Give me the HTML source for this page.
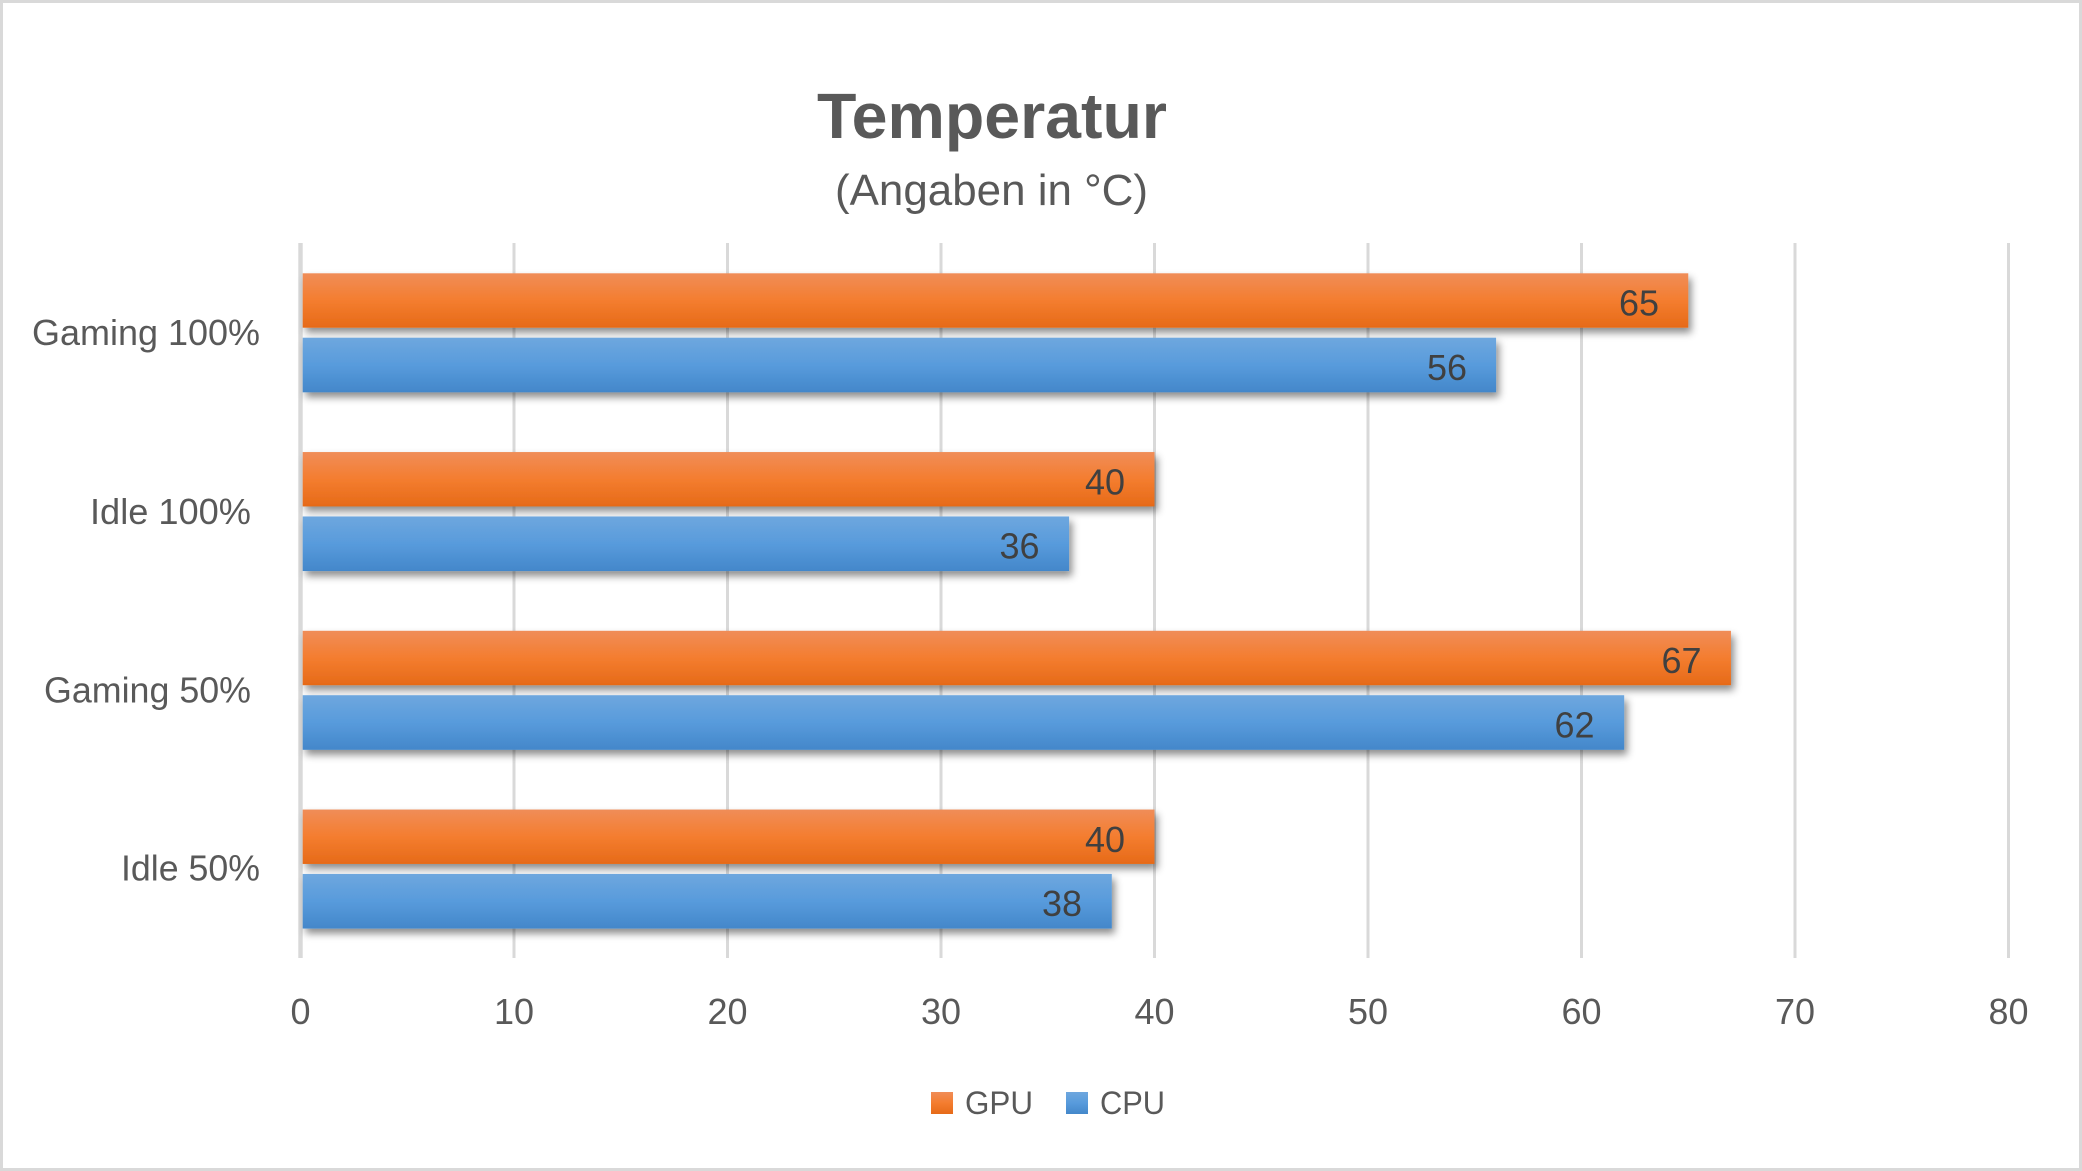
<!DOCTYPE html>
<html>
<head>
<meta charset="utf-8">
<style>
  html,body{margin:0;padding:0;background:#fff;}
  svg{display:block;}
  text{font-family:"Liberation Sans", Arial, sans-serif;}
</style>
</head>
<body>
<svg width="2082" height="1171" viewBox="0 0 2082 1171" xmlns="http://www.w3.org/2000/svg">
  <defs>
    <linearGradient id="og" x1="0" y1="0" x2="0" y2="1">
      <stop offset="0" stop-color="#F08D58"/>
      <stop offset="0.5" stop-color="#F47D2F"/>
      <stop offset="1" stop-color="#E66A18"/>
    </linearGradient>
    <linearGradient id="bg" x1="0" y1="0" x2="0" y2="1">
      <stop offset="0" stop-color="#6EA7DE"/>
      <stop offset="0.5" stop-color="#589BDC"/>
      <stop offset="1" stop-color="#4387CA"/>
    </linearGradient>
    <filter id="sh" x="-5%" y="-30%" width="115%" height="180%">
      <feDropShadow dx="3" dy="5" stdDeviation="4" flood-color="#000" flood-opacity="0.45"/>
    </filter>
  </defs>

  <rect x="0" y="0" width="2082" height="1171" fill="#fff"/>
  <rect x="1.5" y="1.5" width="2079" height="1168" fill="none" stroke="#d9d9d9" stroke-width="3"/>

  <!-- title -->
  <text x="817" y="138" font-size="64" font-weight="bold" fill="#595959" textLength="350" lengthAdjust="spacingAndGlyphs">Temperatur</text>
  <text x="835" y="205" font-size="44" fill="#595959" textLength="313" lengthAdjust="spacingAndGlyphs">(Angaben in °C)</text>

  <!-- gridlines -->
  <g fill="#d9d9d9">
    <rect x="298.3" y="243" width="4.4" height="715"/>
    <rect x="512.5" y="243" width="3" height="715"/>
    <rect x="726" y="243" width="3" height="715"/>
    <rect x="939.5" y="243" width="3" height="715"/>
    <rect x="1153" y="243" width="3" height="715"/>
    <rect x="1366.5" y="243" width="3" height="715"/>
    <rect x="1580" y="243" width="3" height="715"/>
    <rect x="1793.5" y="243" width="3" height="715"/>
    <rect x="2007" y="243" width="3" height="715"/>
  </g>

  <!-- bars -->
  <g filter="url(#sh)">
    <!-- Gaming 100% -->
    <rect x="302.7" y="273.3" width="1385.55" height="54.4" fill="url(#og)"/>
    <rect x="302.7" y="337.7" width="1193.4" height="54.6" fill="url(#bg)"/>
    <!-- Idle 100% -->
    <rect x="302.7" y="452.05" width="851.8" height="54.4" fill="url(#og)"/>
    <rect x="302.7" y="516.45" width="766.4" height="54.6" fill="url(#bg)"/>
    <!-- Gaming 50% -->
    <rect x="302.7" y="630.8" width="1428.25" height="54.4" fill="url(#og)"/>
    <rect x="302.7" y="695.2" width="1321.5" height="54.6" fill="url(#bg)"/>
    <!-- Idle 50% -->
    <rect x="302.7" y="809.55" width="851.8" height="54.4" fill="url(#og)"/>
    <rect x="302.7" y="873.95" width="809.1" height="54.6" fill="url(#bg)"/>
  </g>

  <!-- data labels -->
  <g font-size="36" fill="#404040" text-anchor="end">
    <text x="1659" y="315.5">65</text>
    <text x="1467" y="380">56</text>
    <text x="1125" y="494.3">40</text>
    <text x="1039.5" y="558.7">36</text>
    <text x="1701.5" y="673">67</text>
    <text x="1594.5" y="737.5">62</text>
    <text x="1125" y="851.8">40</text>
    <text x="1082" y="916.2">38</text>
  </g>

  <!-- category labels -->
  <g font-size="36" fill="#595959">
    <text x="32" y="345" textLength="228" lengthAdjust="spacingAndGlyphs">Gaming 100%</text>
    <text x="90" y="524" textLength="161" lengthAdjust="spacingAndGlyphs">Idle 100%</text>
    <text x="44" y="702.3" textLength="207" lengthAdjust="spacingAndGlyphs">Gaming 50%</text>
    <text x="121" y="880.7" textLength="139" lengthAdjust="spacingAndGlyphs">Idle 50%</text>
  </g>

  <!-- x-axis tick labels -->
  <g font-size="36" fill="#595959" text-anchor="middle">
    <text x="300.5" y="1024">0</text>
    <text x="514" y="1024">10</text>
    <text x="727.5" y="1024">20</text>
    <text x="941" y="1024">30</text>
    <text x="1154.5" y="1024">40</text>
    <text x="1368" y="1024">50</text>
    <text x="1581.5" y="1024">60</text>
    <text x="1795" y="1024">70</text>
    <text x="2008.5" y="1024">80</text>
  </g>

  <!-- legend -->
  <rect x="931" y="1092" width="22" height="22" fill="url(#og)"/>
  <text x="965" y="1114" font-size="32" fill="#595959" textLength="68" lengthAdjust="spacingAndGlyphs">GPU</text>
  <rect x="1066" y="1092" width="22" height="22" fill="url(#bg)"/>
  <text x="1100" y="1114" font-size="32" fill="#595959" textLength="65" lengthAdjust="spacingAndGlyphs">CPU</text>
</svg>
</body>
</html>
